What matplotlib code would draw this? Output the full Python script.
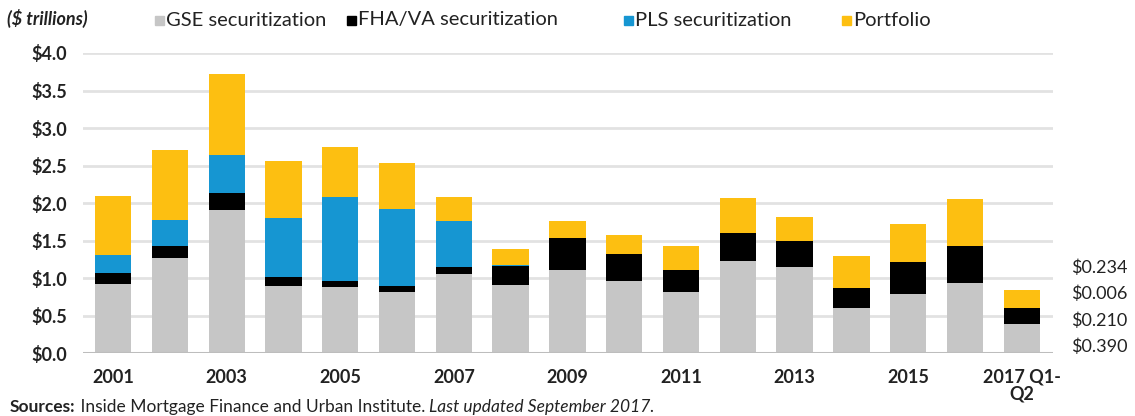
import numpy as np
import matplotlib.pyplot as plt
from matplotlib.patches import Rectangle

# Données (en trillions de dollars)
annees = ["2001", "2002", "2003", "2004", "2005", "2006", "2007", "2008", "2009",
          "2010", "2011", "2012", "2013", "2014", "2015", "2016", "2017 Q1-\nQ2"]
gse = [0.92, 1.27, 1.91, 0.90, 0.88, 0.82, 1.06, 0.91, 1.11,
       0.96, 0.82, 1.23, 1.15, 0.61, 0.79, 0.94, 0.390]
fha = [0.15, 0.16, 0.22, 0.11, 0.08, 0.08, 0.09, 0.25, 0.43,
       0.36, 0.29, 0.37, 0.35, 0.26, 0.43, 0.49, 0.210]
pls = [0.24, 0.35, 0.51, 0.79, 1.12, 1.02, 0.61, 0.01, 0.0,
       0.0, 0.0, 0.0, 0.0, 0.0, 0.0, 0.0, 0.006]
portefeuille = [0.78, 0.93, 1.08, 0.76, 0.67, 0.62, 0.32, 0.22, 0.22,
                0.25, 0.32, 0.47, 0.32, 0.43, 0.50, 0.63, 0.234]
yticks = [0.0, 0.5, 1.0, 1.5, 2.0, 2.5, 3.0, 3.5, 4.0]

series = [("GSE securitization", gse, "#c6c6c6"),
          ("FHA/VA securitization", fha, "#000000"),
          ("PLS securitization", pls, "#1696d2"),
          ("Portfolio", portefeuille, "#fdbf11")]

plt.rcParams['font.family'] = ['Lato', 'DejaVu Sans']
gris = "#222222"
W, H = 1135.0, 416.0

fig = plt.figure(figsize=(11.35, 4.16), dpi=100)
ax = fig.add_axes([83 / W, 1 - 353.3 / H, 970 / W, 300.3 / H])

x = np.arange(len(annees))
bas = np.zeros(len(annees))
for nom, vals, couleur in series:
    v = np.array(vals)
    ax.bar(x, v, width=0.64, bottom=bas, color=couleur, zorder=3)
    bas = bas + v

ax.set_ylim(0, 4.0)
ax.set_xlim(-0.53, len(annees) - 0.45)
ax.set_yticks(yticks)
ax.set_yticklabels(["${:.1f}".format(t) for t in yticks], fontsize=13,
                   fontweight="bold", color=gris)
ax.set_xticks(x[::2])
ax.set_xticklabels(annees[::2], fontsize=13, fontweight="bold", color=gris,
                   linespacing=1.0)
ax.tick_params(axis="both", length=0)
ax.tick_params(axis="y", pad=11.5)
ax.tick_params(axis="x", pad=11)
ax.grid(axis="y", color="#e2e2e2", linewidth=2, zorder=0)
for s in ax.spines.values():
    s.set_visible(False)
ax.axhline(0, color="#bdbdbd", linewidth=2.2, zorder=4)

# étiquettes de la dernière barre
derniers = [portefeuille[-1], pls[-1], fha[-1], gse[-1]]
for i, val in enumerate(derniers):
    ax.text(1.019, 0.285 - i * 0.088, "${:.3f}".format(val), transform=ax.transAxes,
            fontsize=13, color=gris, va="center", ha="left")

# légende placée à la main
pos_carre = [155, 347, 624, 842]
for (nom, vals, couleur), px in zip(series, pos_carre):
    fig.patches.append(Rectangle((px / W, 1 - 25 / H), 9 / W, 9 / H,
                                 transform=fig.transFigure, color=couleur))
    fig.text((px + 11) / W, 1 - 20 / H, nom, fontsize=14.5, color=gris,
             va="center", ha="left")

fig.text(7 / W, 1 - 18 / H, "($ trillions)", fontsize=13, fontweight="bold",
         fontstyle="italic", color=gris, va="center")

t1 = fig.text(10 / W, 1 / H, "Sources:", fontsize=12.5, fontweight="bold",
              color=gris, va="bottom")
t2 = ax.annotate(" Inside Mortgage Finance and Urban Institute. ", xy=(1, 0),
                 xycoords=t1, fontsize=12.5, color=gris, va="bottom",
                 annotation_clip=False)
ax.annotate("Last updated September 2017.", xy=(1, 0), xycoords=t2,
            fontsize=12.5, fontstyle="italic", color=gris, va="bottom",
            annotation_clip=False)

plt.savefig("out.png", dpi=100)
